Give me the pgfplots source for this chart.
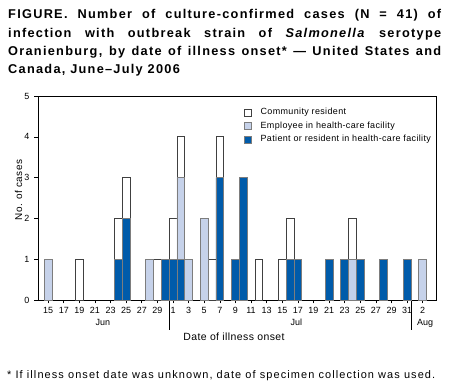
\documentclass[border=0pt]{standalone}
\usepackage{fontspec}
\setmainfont{Liberation Sans}
\usepackage{pgfplots}
\pgfplotsset{compat=1.18}
\definecolor{darkb}{RGB}{0,91,170}
\definecolor{lightb}{RGB}{198,210,234}
\definecolor{edge}{RGB}{125,125,125}
% day index: June n -> n, July n -> 30+n, Aug n -> 61+n
\begin{document}
\begin{tikzpicture}
\path (0bp,0bp) rectangle (449bp,392bp);
\node[anchor=north west, inner sep=0pt, text width=433bp, align=justify,
  font=\fontsize{12.8}{18.3}\selectfont\bfseries\addfontfeature{LetterSpace=10}] at (8bp,382.5bp)
  {FIGURE. Number of culture-confirmed cases (N = 41) of\linebreak
   infection with outbreak strain of \textit{Salmonella} serotype\linebreak
   Oranienburg, by date of illness onset* --- United States and\linebreak
   Canada, June--July 2006};
\begin{axis}[at={(38bp,92bp)}, anchor=south west,
  width=398bp, height=204bp, scale only axis,
  xmin=13.7, xmax=64.7, ymin=0, ymax=5,
  ybar stacked, bar width=1,
  axis line style={black, line width=0.6bp},
  xtick={15,17,...,63},
  xticklabels={15,17,19,21,23,25,27,29,1,3,5,7,9,11,13,15,17,19,21,23,25,27,29,31,2},
  ytick={0,1,2,3,4,5},
  tick align=outside,
  xtick pos=bottom, ytick pos=left,
  major tick length=3.5bp,
  tick style={black, line width=0.6bp},
  tick label style={font=\fontsize{9}{10}\selectfont},
  /pgf/number format/assume math mode=true,
  xticklabel style={yshift=0bp},
  yticklabel style={xshift=-1.5bp},
  reverse legend,
  legend style={at={(0.517,0.94)}, anchor=north west, draw=none, fill=none,
    font=\fontsize{9}{10}\selectfont\addfontfeature{LetterSpace=4}, row sep=5.5bp, inner sep=0pt,
    nodes={inner sep=0pt}, column sep=0pt},
  legend cell align=left,
  legend image code/.code={\draw[#1, line width=0.6bp] (0bp,-3.4bp) rectangle (6.8bp,3.4bp);
     \path (16bp,0bp);},
  clip=false,
]
\addplot+[fill=darkb, draw=edge, line width=0.8bp] coordinates {
(15,0) (19,0) (24,1) (25,2) (28,0) (29,0) (30,1) (31,1) (32,1) (33,0) (35,0) (36,0) (37,3)
(39,1) (40,3) (42,0) (45,0) (46,1) (47,1) (51,1) (53,1) (54,0) (55,1) (58,1) (61,1) (63,0)};
\addplot+[fill=lightb, draw=edge, line width=0.8bp] coordinates {
(15,1) (19,0) (24,0) (25,0) (28,1) (29,0) (30,0) (31,0) (32,2) (33,1) (35,2) (36,0) (37,0)
(39,0) (40,0) (42,0) (45,0) (46,0) (47,0) (51,0) (53,0) (54,1) (55,0) (58,0) (61,0) (63,1)};
\addplot+[fill=white, draw=black!75, line width=0.8bp] coordinates {
(15,0) (19,1) (24,1) (25,1) (28,0) (29,1) (30,0) (31,1) (32,1) (33,0) (35,0) (36,1) (37,1)
(39,0) (40,0) (42,1) (45,1) (46,1) (47,0) (51,0) (53,0) (54,1) (55,0) (58,0) (61,0) (63,0)};
\legend{Patient or resident in health-care facility, Employee in health-care facility, Community resident}
\draw[black, line width=0.6bp] (axis cs:30.5,0) -- ([yshift=-30bp]axis cs:30.5,0);
\draw[black, line width=0.6bp] (axis cs:61.5,0) -- ([yshift=-30bp]axis cs:61.5,0);
\node[anchor=base, font=\fontsize{9}{10}\selectfont] at ([yshift=-26bp]axis cs:22,0) {Jun};
\node[anchor=base, font=\fontsize{9}{10}\selectfont] at ([yshift=-26bp]axis cs:46.8,0) {Jul};
\node[anchor=base, font=\fontsize{9}{10}\selectfont] at ([yshift=-26bp]axis cs:63.3,0) {Aug};
\end{axis}
\node[anchor=base, font=\fontsize{10.5}{12}\selectfont\addfontfeature{LetterSpace=4}] at (234bp,51bp) {Date of illness onset};
\node[rotate=90, anchor=base, font=\fontsize{10}{12}\selectfont\addfontfeature{LetterSpace=4}] at (22bp,202bp) {No. of cases};
\node[anchor=base west, inner sep=0pt, font=\fontsize{11}{12}\selectfont\addfontfeature{LetterSpace=10}] at (7bp,13.5bp)
  {* If illness onset date was unknown, date of specimen collection was used.};
\end{tikzpicture}
\end{document}
